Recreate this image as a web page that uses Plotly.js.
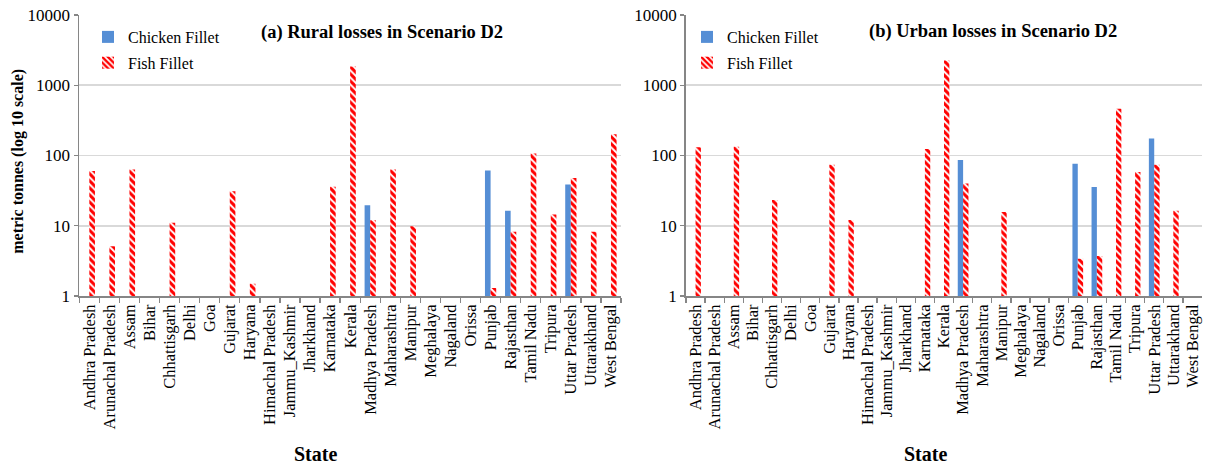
<!DOCTYPE html>
<html>
<head>
<meta charset="utf-8">
<script src="https://cdn.plot.ly/plotly-3.0.1.min.js"></script>
<style>html,body{margin:0;padding:0;background:#fff;}#chart{width:1209px;height:468px;}</style>
</head>
<body>
<div id="chart"></div>
<script>
const states = ["Andhra Pradesh","Arunachal Pradesh","Assam","Bihar","Chhattisgarh","Delhi","Goa","Gujarat","Haryana","Himachal Pradesh","Jammu_Kashmir","Jharkhand","Karnataka","Kerala","Madhya Pradesh","Maharashtra","Manipur","Meghalaya","Nagaland","Orissa","Punjab","Rajasthan","Tamil Nadu","Tripura","Uttar Pradesh","Uttarakhand","West Bengal"];

const ruralChicken = [null,null,null,null,null,null,null,null,null,null,null,null,null,null,19.6,null,null,null,null,null,61,16.4,null,null,38.5,null,null];
const ruralFish    = [60,5.1,63,null,11,null,null,31,1.5,null,null,null,36,1850,12,63,9.8,null,null,null,1.3,8.2,107,14.5,48,8.2,200];

const urbanChicken = [null,null,null,null,null,null,null,null,null,null,null,null,null,null,86,null,null,null,null,null,76,35.6,null,null,174,null,null];
const urbanFish    = [131,null,133,null,23.3,null,null,74,12.1,null,null,null,124,2250,40,null,15.7,null,null,null,3.4,3.7,464,58,74,16.4,null];

const yTicks = [1,10,100,1000,10000];
const seriesNames = ["Chicken Fillet","Fish Fillet"];
const panelTitles = ["(a) Rural losses in Scenario D2","(b) Urban losses in Scenario D2"];
const xTitle = "State";
const yTitle = "metric tonnes (log 10 scale)";

const FONT = "Liberation Serif, Times New Roman, serif";
const BLUE = "#558ED5";
const RED = "#FF0000";

function chickenTrace(y, xa, ya, lg){
  return {type:"bar", name:seriesNames[0], x:states, y:y, xaxis:xa, yaxis:ya, legend:lg,
    legendgroup:lg+"c", marker:{color:BLUE, line:{width:0}}, hoverinfo:"x+y"};
}
function fishTrace(y, xa, ya, lg){
  return {type:"bar", name:seriesNames[1], x:states, y:y, xaxis:xa, yaxis:ya, legend:lg,
    legendgroup:lg+"f",
    marker:{color:"#ffffff", line:{width:0},
      pattern:{shape:"\\", fgcolor:RED, bgcolor:"#ffffff", size:5, solidity:0.6, fillmode:"replace"}},
    hoverinfo:"x+y"};
}

const data = [
  chickenTrace(ruralChicken,"x","y","legend"),
  fishTrace(ruralFish,"x","y","legend"),
  chickenTrace(urbanChicken,"x2","y2","legend2"),
  fishTrace(urbanFish,"x2","y2","legend2")
];

const W = 1209, H = 468, T = 15, B = 171.5;
const PH = H - T - B;
const py = p => (H - B - p) / PH;   // pixel y -> paper y
const px = p => p / W;

function xaxisCfg(domain){
  return {domain:domain, type:"category", categoryorder:"array", categoryarray:states,
    range:[-0.5, states.length-0.5], tickmode:"linear", tick0:0, dtick:1,
    tickangle:-90, tickson:"boundaries",
    ticks:"outside", ticklen:5, tickcolor:"#868686", tickwidth:1.3,
    showline:true, linecolor:"#868686", linewidth:1.8, showgrid:false, zeroline:false,
    tickfont:{family:FONT, size:16.5, color:"#000"}, fixedrange:true};
}
function yaxisCfg(anchor){
  return {type:"log", range:[0,4], anchor:anchor, tickvals:yTicks, ticktext:yTicks.map(String),
    ticks:"outside", ticklen:4, tickcolor:"#868686", tickwidth:1.3,
    showline:true, linecolor:"#868686", linewidth:1.8,
    showgrid:true, gridcolor:"#d9d9d9", gridwidth:1.6, zeroline:false,
    tickfont:{family:FONT, size:17, color:"#000"}, fixedrange:true};
}

const layout = {
  width:W, height:H, margin:{l:0, r:0, t:T, b:B},
  paper_bgcolor:"#fff", plot_bgcolor:"#fff",
  barmode:"group", bargap:0.44, bargroupgap:0,
  font:{family:FONT, color:"#000"},
  xaxis: xaxisCfg([px(79.3), px(621)]),
  yaxis: yaxisCfg("x"),
  xaxis2: xaxisCfg([px(686), px(1202)]),
  yaxis2: yaxisCfg("x2"),
  legend:{x:px(88), y:py(20), xanchor:"left", yanchor:"top", bgcolor:"rgba(0,0,0,0)",
    font:{family:FONT, size:16, color:"#000"}, traceorder:"grouped", tracegroupgap:2, itemwidth:30},
  legend2:{x:px(687), y:py(20), xanchor:"left", yanchor:"top", bgcolor:"rgba(0,0,0,0)",
    font:{family:FONT, size:16, color:"#000"}, traceorder:"grouped", tracegroupgap:2, itemwidth:30},
  annotations:[
    {text:"<b>"+panelTitles[0]+"</b>", xref:"paper", yref:"paper", x:px(382), y:py(33),
      showarrow:false, font:{family:FONT, size:18.5, color:"#000"}, xanchor:"center", yanchor:"middle"},
    {text:"<b>"+panelTitles[1]+"</b>", xref:"paper", yref:"paper", x:px(993), y:py(32),
      showarrow:false, font:{family:FONT, size:18.5, color:"#000"}, xanchor:"center", yanchor:"middle"},
    {text:"<b>"+xTitle+"</b>", xref:"paper", yref:"paper", x:px(315), y:py(455),
      showarrow:false, font:{family:FONT, size:20, color:"#000"}, xanchor:"center", yanchor:"middle"},
    {text:"<b>"+xTitle+"</b>", xref:"paper", yref:"paper", x:px(925), y:py(455),
      showarrow:false, font:{family:FONT, size:20, color:"#000"}, xanchor:"center", yanchor:"middle"},
    {text:"<b>"+yTitle+"</b>", xref:"paper", yref:"paper", x:px(18), y:py(162), textangle:-90,
      showarrow:false, font:{family:FONT, size:16, color:"#000"}, xanchor:"center", yanchor:"middle"}
  ]
};

Plotly.newPlot("chart", data, layout, {displayModeBar:false, staticPlot:true});
</script>
</body>
</html>
